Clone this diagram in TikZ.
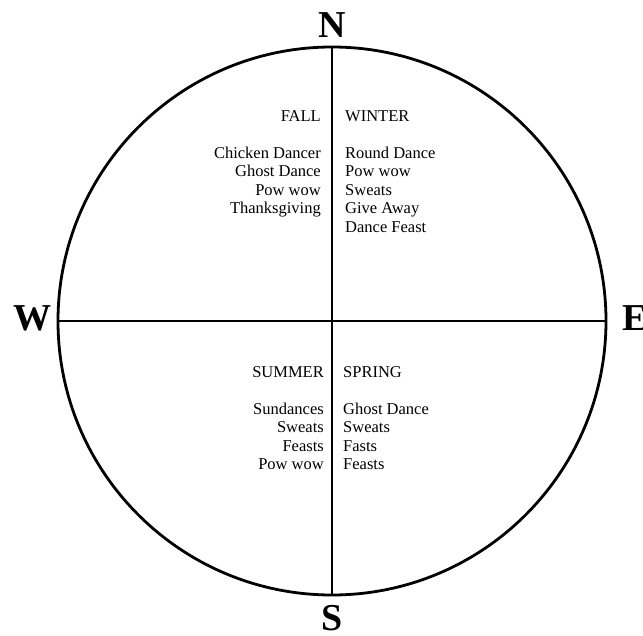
\documentclass[tikz,border=0pt]{standalone}
\usepackage{fontspec}
\setmainfont{Liberation Serif}
\usepackage{xcolor}
\definecolor{inkc}{HTML}{000000}

\begin{document}
\begin{tikzpicture}[x=1pt,y=-1pt,
    ring/.style={draw=inkc, line width=2.8pt},
    axis/.style={draw=inkc, line width=2.8pt},
    compass/.style={font=\fontsize{38}{40}\selectfont\bfseries, text=inkc, inner sep=0pt},
    season/.style={font=\fontsize{16.5}{18.5}\selectfont, text=inkc, inner sep=0pt},
    events/.style={font=\fontsize{16.5}{18.5}\selectfont, text=inkc, inner sep=0pt}]
  \useasboundingbox (0,0) rectangle (643,635);

  % ==========================================================
  %                     PARAMETERS
  % ==========================================================
  \def\cx{332}      % wheel centre x (px)
  \def\cy{321}      % wheel centre y (px)
  \def\rad{274}     % wheel radius (px)

  % ==========================================================
  %                     WHEEL
  % ==========================================================
  \coordinate (hub) at (\cx,\cy);
  \coordinate (top) at (\cx,\cy-\rad);
  \coordinate (bot) at (\cx,\cy+\rad);
  \coordinate (lft) at (\cx-\rad,\cy);
  \coordinate (rgt) at (\cx+\rad,\cy);

  \draw[ring] (hub) circle (\rad);
  \draw[axis] (top) -- (bot);
  \draw[axis] (lft) -- (rgt);

  % ==========================================================
  %                     DIRECTIONS
  % ==========================================================
  \node[compass] (north) at (332,25) {N};
  \node[compass] (south) at (332,618) {S};
  \node[compass] (west)  at (32,318) {W};
  \node[compass, anchor=west] (east) at (622,318) {E};

  % ==========================================================
  %                     SEASONS
  % ==========================================================
  \node[season, anchor=base east] (fall)   at (321,121) {FALL};
  \node[season, anchor=base west] (winter) at (345,121) {WINTER};
  \node[season, anchor=base east] (summer) at (324,377) {SUMMER};
  \node[season, anchor=base west] (spring) at (343,377) {SPRING};

  \node[events, anchor=north east, align=right] (fallev) at (321,146.5)
    {Chicken Dancer\\Ghost Dance\\Pow wow\\Thanksgiving};
  \node[events, anchor=north west, align=left] (winterev) at (345,146.5)
    {Round Dance\\Pow wow\\Sweats\\Give Away\\Dance Feast};
  \node[events, anchor=north east, align=right] (summerev) at (324,402.5)
    {Sundances\\Sweats\\Feasts\\Pow wow};
  \node[events, anchor=north west, align=left] (springev) at (343,402.5)
    {Ghost Dance\\Sweats\\Fasts\\Feasts};

\end{tikzpicture}
\end{document}
